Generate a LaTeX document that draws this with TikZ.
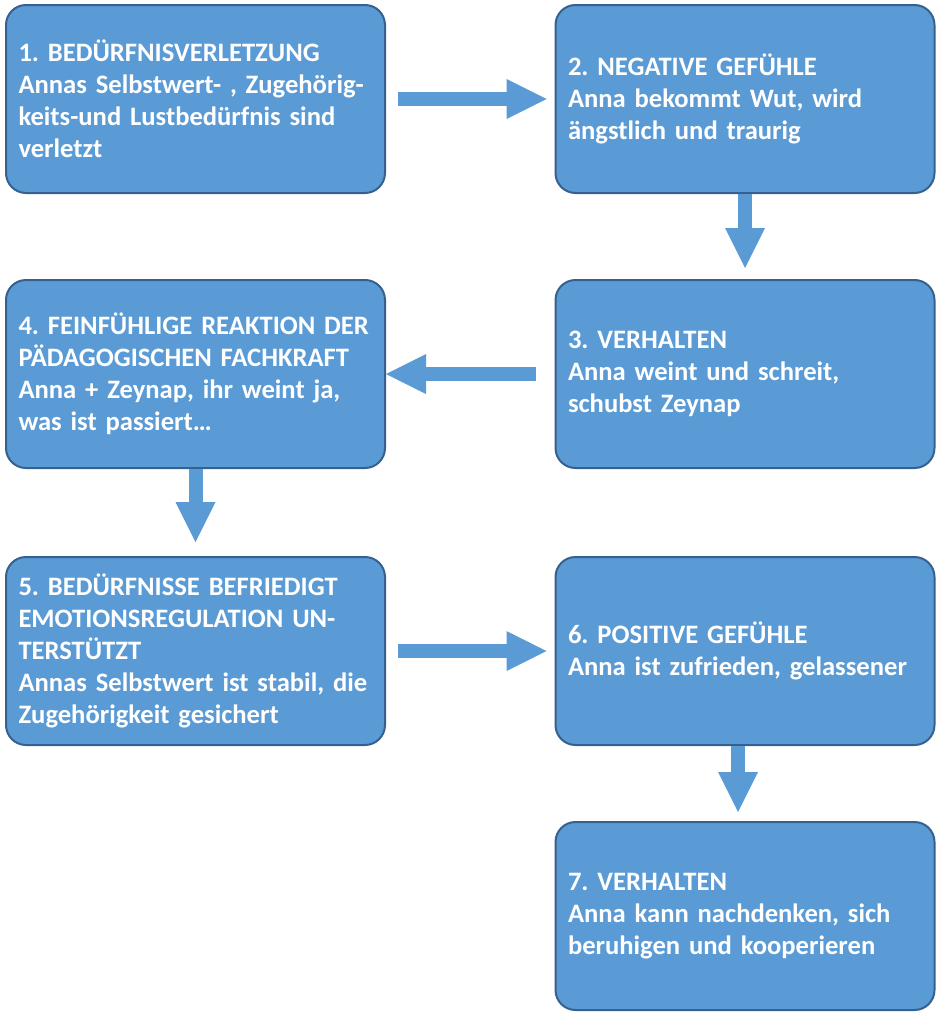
\documentclass[tikz,border=0pt]{standalone}
\usepackage{fontspec}
\setmainfont{Carlito}
\usetikzlibrary{arrows.meta}

\definecolor{boxblue}{HTML}{5B9BD5}
\definecolor{boxline}{HTML}{34618F}

\begin{document}
\frenchspacing
\begin{tikzpicture}[x=0.5pt, y=-0.5pt]
    \useasboundingbox (0,0) rectangle (936,1012);

    \tikzset{stepbox/.style={draw=boxline, fill=boxblue, line width=1pt,
        rounded corners=10pt, minimum width=189.5pt, minimum height=94pt,
        text width=177pt, inner xsep=6.25pt, align=left, text=white,
        font=\bfseries\fontsize{13.3}{16}\selectfont}}
    \tikzset{flow/.style={draw=boxblue, line width=7pt,
        -{Triangle[length=20pt, width=20pt, line width=0pt]}}}

    \node[stepbox] (n1) at (195.5,99)  {1. BEDÜRFNISVERLETZUNG\\Annas Selbstwert- , Zugehörig-\\keits-und Lustbedürfnis sind\\verletzt};
    \node[stepbox] (n2) at (745,99)    {2. NEGATIVE GEFÜHLE\\Anna bekommt Wut, wird\\ängstlich und traurig};
    \node[stepbox] (n3) at (745,374)   {3. VERHALTEN\\Anna weint und schreit,\\schubst Zeynap};
    \node[stepbox] (n4) at (195.5,374) {4. FEINFÜHLIGE REAKTION DER\\PÄDAGOGISCHEN FACHKRAFT\\Anna + Zeynap, ihr weint ja,\\was ist passiert…};
    \node[stepbox] (n5) at (195.5,651) {5. BEDÜRFNISSE BEFRIEDIGT\\EMOTIONSREGULATION UN-\\TERSTÜTZT\\Annas Selbstwert ist stabil, die\\Zugehörigkeit gesichert};
    \node[stepbox] (n6) at (745,651)   {6. POSITIVE GEFÜHLE\\Anna ist zufrieden, gelassener};
    \node[stepbox] (n7) at (745,916)   {7. VERHALTEN\\Anna kann nachdenken, sich\\beruhigen und kooperieren};

    % block arrows between the steps
    \draw[flow, shorten <=6pt, shorten >=4pt] (n1.east) -- (n2.west);
    \draw[flow, shorten >=5.5pt] (n2.south) -- (n3.north);
    \draw[flow, shorten <=9.5pt] (n3.west) -- (n4.east);
    \draw[flow, shorten >=7pt] (n4.south) -- (n5.north);
    \draw[flow, shorten <=6pt, shorten >=4pt] (n5.east) -- (n6.west);
    \draw[flow, shorten >=4.5pt] ([xshift=-3.5pt]n6.south) -- ([xshift=-3.5pt]n7.north);
\end{tikzpicture}
\end{document}
